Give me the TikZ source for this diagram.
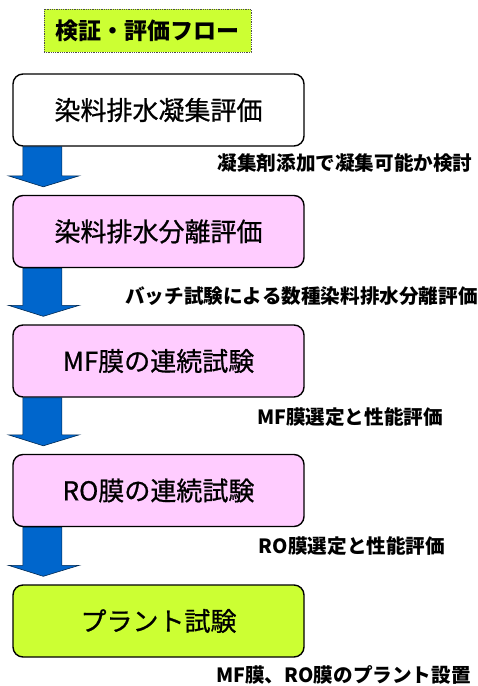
\documentclass[tikz,border=0pt]{standalone}
\usepackage{fontspec}
\setmainfont{Noto Sans CJK JP}
\newfontfamily\boxfont[FakeBold=0.8]{Noto Sans CJK JP}
\usetikzlibrary{calc}
\definecolor{lime}{RGB}{204,255,51}
\definecolor{pinkbox}{RGB}{255,204,255}
\definecolor{arrowblue}{RGB}{0,102,204}
\tikzset{
  flowbox/.style={draw=black, line width=1.4pt, rounded corners=10pt, minimum width=291pt, minimum height=72pt, inner sep=0pt, font=\boxfont\fontsize{26}{28}\selectfont},
  caption/.style={inner sep=0pt, font=\fontsize{19.6}{21}\selectfont\bfseries},
  titlebox/.style={draw=black!70, densely dotted, line width=0.8pt, fill=lime, minimum width=207pt, minimum height=43pt, inner sep=0pt, font=\fontsize{23}{25}\selectfont\bfseries},
  bigarrow/.style={fill=arrowblue, draw=black!60!arrowblue, line width=0.6pt}
}
\newcommand\flowarrow[2]{%
  \path[bigarrow] let \p1=(#1.south west), \p2=(#2.north west) in
    (\x1+10.5pt,\y1) -- (\x1+49.5pt,\y1) -- (\x1+49.5pt,\y2+19pt) -- (\x1+67pt,\y2+19pt)
    -- (\x1+31pt,\y2+8pt) -- (\x1-4pt,\y2+19pt) -- (\x1+10.5pt,\y2+19pt) -- cycle;}
\begin{document}
\begin{tikzpicture}[x=1pt,y=-1pt]
\useasboundingbox (0,0) rectangle (478,686);
\node[titlebox] (title) at (147.5,30.5) {検証・評価フロー};
\node[flowbox, fill=white] (b1) at (158.5,110) {染料排水凝集評価};
\node[flowbox, fill=pinkbox] (b2) at (158.5,231.5) {染料排水分離評価};
\node[flowbox, fill=pinkbox] (b3) at (158.5,361) {MF膜の連続試験};
\node[flowbox, fill=pinkbox] (b4) at (158.5,490.5) {RO膜の連続試験};
\node[flowbox, fill=lime] (b5) at (158.5,621) {プラント試験};
\flowarrow{b1}{b2}
\flowarrow{b2}{b3}
\flowarrow{b3}{b4}
\flowarrow{b4}{b5}
\node[caption] (c1) at (345,163) {凝集剤添加で凝集可能か検討};
\node[caption] (c2) at (301.5,296) {バッチ試験による数種染料排水分離評価};
\node[caption] (c3) at (350,417) {MF膜選定と性能評価};
\node[caption] (c4) at (352,546) {RO膜選定と性能評価};
\node[caption] (c5) at (343.5,675) {MF膜、RO膜のプラント設置};
\end{tikzpicture}
\end{document}
